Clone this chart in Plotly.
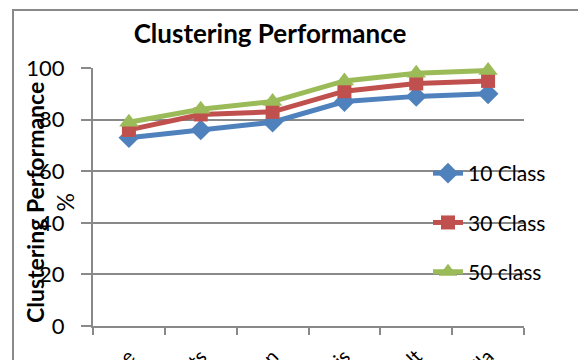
import plotly.graph_objects as go

categories = ["Abalone", "Optdigits", "Soybean", "Iris", "Adult", "Avila"]
series_names = ["10 Class", "30 Class", "50 class"]
class10 = [73, 76, 79, 87, 89, 90]
class30 = [76, 82, 83, 91, 94, 95]
class50 = [79, 84, 87, 95, 98, 99]
y_ticks = [0, 20, 40, 60, 80, 100]

colors = ["#4F81BD", "#C0504D", "#9BBB59"]
symbols = ["diamond", "square", "triangle-up"]
msizes = [16, 14, 17]

FONT = "Lato, 'Open Sans', sans-serif"

fig = go.Figure()
for i, (name, vals) in enumerate(zip(series_names, [class10, class30, class50])):
    fig.add_trace(go.Scatter(
        x=categories, y=vals, name=name, mode="lines+markers",
        line=dict(color=colors[i], width=5),
        marker=dict(symbol=symbols[i], size=msizes[i], color=colors[i]),
        legendgroup=name, cliponaxis=False,
    ))

# page body has an 8px margin; figure coordinates are offset accordingly
OFF = 8
W, H = 586 - OFF, 360 - OFF
L, T = 93 - OFF, 68 - OFF
R = W - (524 - OFF)
B = H - (326 - OFF)
pw, ph = W - L - R, H - T - B


def px(x):
    return (x - OFF - L) / pw


def py(y):
    return (H - B - (y - OFF)) / ph


fig.update_layout(
    width=W, height=H,
    margin=dict(l=L, r=R, t=T, b=B, autoexpand=False),
    paper_bgcolor="white", plot_bgcolor="white",
    font=dict(family=FONT, size=20, color="black"),
    title=dict(text="<b>Clustering Performance</b>", x=(270 - OFF) / W, xanchor="center",
               y=1 - (34 - OFF) / H, yanchor="middle",
               font=dict(family=FONT, size=26, color="black")),
    showlegend=True,
    legend=dict(x=px(428), xanchor="left", y=py(153), yanchor="top",
                bgcolor="rgba(0,0,0,0)", tracegroupgap=19,
                font=dict(family=FONT, size=21, color="black")),
    xaxis=dict(type="category", range=[-0.5, 5.5], showgrid=False,
               showline=True, linecolor="#898989", linewidth=2,
               ticks="outside", tickson="boundaries", ticklen=7, tickwidth=2, tickcolor="#898989",
               tickangle=-45, ticklabelstandoff=9,
               tickfont=dict(family=FONT, size=20, color="black"),
               automargin=False, fixedrange=True),
    yaxis=dict(range=[0, 100], tickvals=y_ticks, showgrid=True, gridcolor="#898989", gridwidth=2,
               showline=True, linecolor="#898989", linewidth=2, zeroline=False,
               ticks="outside", ticklen=10, tickwidth=2, tickcolor="#898989",
               ticklabelstandoff=12,
               tickfont=dict(family=FONT, size=22, color="black"),
               automargin=False),
    annotations=[dict(text="<b>Clustering Performance</b><br>%", textangle=-90,
                      xref="paper", yref="paper", x=px(50), y=py(203),
                      xanchor="center", yanchor="middle", showarrow=False,
                      font=dict(family=FONT, size=23, color="black"))],
    shapes=[dict(type="rect", xref="paper", yref="paper",
                 x0=px(13), x1=px(640), y0=py(420), y1=py(10),
                 line=dict(color="#898989", width=2), fillcolor="rgba(0,0,0,0)", layer="below")],
)

fig.write_html("out.html")
